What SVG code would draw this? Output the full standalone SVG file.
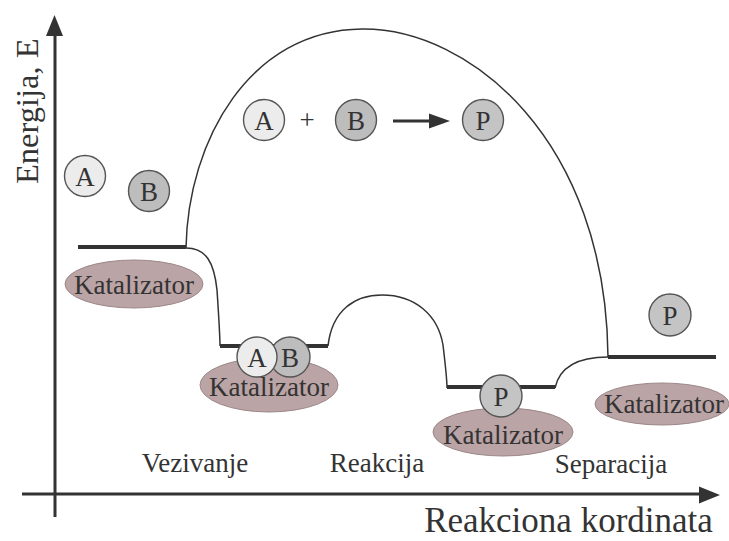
<svg xmlns="http://www.w3.org/2000/svg" width="729" height="541" viewBox="0 0 729 541" font-family="'Liberation Serif', 'Times New Roman', 'DejaVu Serif', serif">
<style>
text{font-family:"Liberation Serif","Times New Roman","DejaVu Serif",serif;fill:#333}
.lbl{font-size:27px;text-anchor:middle}
.mol{font-size:27px;text-anchor:middle}
.cat{fill:#bba4a5;stroke:#9c8788;stroke-width:1}
.ca{fill:#ececec;stroke:#555;stroke-width:1.4}
.cb{fill:#bdbdbd;stroke:#555;stroke-width:1.4}
.cp{fill:#c4c4c4;stroke:#555;stroke-width:1.4}
.lvl{stroke:#333;stroke-width:4;fill:none}
.crv{stroke:#333;stroke-width:1.5;fill:none}
.ax{stroke:#333;stroke-width:3;fill:none}
</style>
<g id="axes">
<line class="ax" x1="55" y1="517" x2="55" y2="32"/>
<polygon points="54.5,15 46,36 63,36" fill="#333"/>
<line class="ax" x1="22" y1="494" x2="703" y2="494"/>
<polygon points="720,495 699,486.5 699,503.5" fill="#333"/>
<text transform="translate(38,184) rotate(-90)" font-size="32.5">Energija, E</text>
<text x="568.5" y="532" font-size="35" text-anchor="middle">Reakciona kordinata</text>
</g>
<g id="connectors">
<path class="crv" d="M186,248 C188,140 250,30 362,29 C470,28 606,140 608,357"/>
<path class="crv" d="M186,248 C206,248 214,262 217,290 C219,320 220,340 220,346"/>
<path class="crv" d="M328,346 C332,310 355,295 382,295 C415,295 438,315 443,345 C446,370 447,385 447,388"/>
<path class="crv" d="M555,388 C560,365 580,357 608,357"/>
<line class="lvl" x1="78" y1="247" x2="186" y2="247"/>
<line class="lvl" x1="220" y1="346" x2="328" y2="346"/>
<line class="lvl" x1="447" y1="387" x2="555" y2="387"/>
<line class="lvl" x1="608" y1="357" x2="716" y2="357"/>
<line x1="393" y1="121" x2="432" y2="121" stroke="#333" stroke-width="3"/>
<polygon points="450,121 429,113.5 429,128.5" fill="#333"/>
</g>
<g id="start">
<circle class="ca" cx="85" cy="176" r="20.5"/>
<text class="mol" x="85" y="185.5">A</text>
<circle class="cb" cx="149" cy="191" r="20.5"/>
<text class="mol" x="149" y="200.5">B</text>
<ellipse class="cat" cx="134" cy="284" rx="69" ry="24"/>
<text class="lbl" x="134" y="293.5">Katalizator</text>
</g>
<g id="bound">
<ellipse class="cat" cx="269" cy="385" rx="69" ry="27"/>
<circle class="cb" cx="290" cy="357" r="20"/>
<text class="mol" x="290" y="366.5">B</text>
<circle class="ca" cx="257" cy="357" r="20"/>
<text class="mol" x="257" y="366.5">A</text>
<text class="lbl" x="269" y="395.5">Katalizator</text>
</g>
<g id="product-bound">
<ellipse class="cat" cx="503" cy="432" rx="70" ry="24"/>
<circle class="cp" cx="501" cy="396" r="21"/>
<text class="mol" x="501" y="405.5">P</text>
<text class="lbl" x="503" y="443.5">Katalizator</text>
</g>
<g id="separated">
<circle class="cp" cx="670" cy="315" r="21"/>
<text class="mol" x="670" y="324.5">P</text>
<ellipse class="cat" cx="662" cy="404" rx="67" ry="21"/>
<text class="lbl" x="664" y="412.5">Katalizator</text>
</g>
<g id="equation">
<circle class="ca" cx="264" cy="120" r="20.5"/>
<text class="mol" x="264" y="129.5">A</text>
<text class="mol" x="307" y="129">+</text>
<circle class="cb" cx="356" cy="120" r="20.5"/>
<text class="mol" x="356" y="129.5">B</text>
<circle class="cp" cx="483" cy="120" r="20.5"/>
<text class="mol" x="483" y="129.5">P</text>
</g>
<g id="stages">
<text class="lbl" x="195" y="472">Vezivanje</text>
<text class="lbl" x="377" y="472">Reakcija</text>
<text class="lbl" x="611" y="473">Separacija</text>
</g>
</svg>
